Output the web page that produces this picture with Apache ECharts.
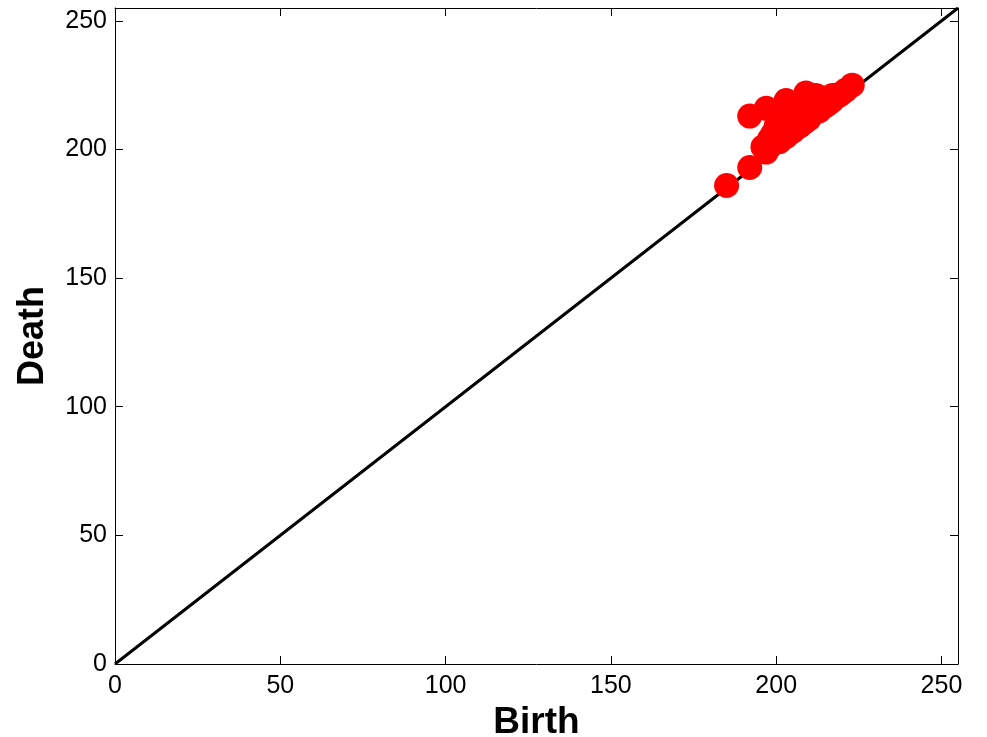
<!DOCTYPE html>
<html><head><meta charset="utf-8">
<script src="https://cdn.jsdelivr.net/npm/echarts@6/dist/echarts.min.js"></script>
<style>html,body{margin:0;padding:0;background:#fff}#c{width:987px;height:737px}</style>
</head><body><div id="c"></div>
<script>
const axisTicks = [0, 50, 100, 150, 200, 250];
const diagonal = [[0, 0], [255, 255]];
const births = [185,192,192,197,203,209,216,223,220,218,213,197,198,199,199,200,201,202,203,204,205,205,206,207,207,208,209,210,210,211,212,213,214,215,216,217,219,221,206,204,202,208,211,212,200,201,203,205,207,209,196,214,197,198,199,200,201,202,203,204,205,201,212,214,217];
const deaths = [186,193,213,216,219,222,220,225,222,221,218,199,201,203,206,204,208,206,210,207,212,215,209,213,217,210,215,212,218,214,216,215,217,217,218,219,221,223,218,213,210,219,219,220,209,203,205,207,209,211,201,219,201,204,206,208,206,208,212,214,216,211,221,220,221];
const points = births.map((b, i) => [b, deaths[i]]);

const font = 'Liberation Sans, Arial, sans-serif';
const chart = echarts.init(document.getElementById('c'));
const fmt = v => (axisTicks.indexOf(v) >= 0 ? String(v) : '');
const baseAxis = {
  type: 'value', min: 0, max: 255, interval: 50,
  axisLine: {show: true, onZero: false, lineStyle: {color: '#000', width: 1}},
  axisTick: {show: true, inside: true, length: 8, lineStyle: {color: '#000', width: 1}},
  splitLine: {show: false}
};
chart.setOption({
  animation: false,
  grid: {left: 115, right: 29, top: 8, bottom: 73, containLabel: false, outerBoundsMode: 'none'},
  xAxis: [
    Object.assign({}, baseAxis, {position: 'bottom',
      name: 'Birth', nameLocation: 'middle', nameGap: 35,
      nameTextStyle: {fontFamily: font, fontSize: 37, fontWeight: 'bold', color: '#000'},
      axisLabel: {show: true, formatter: fmt, fontFamily: font, fontSize: 25, color: '#000', margin: 10, showMaxLabel: false}}),
    Object.assign({}, baseAxis, {position: 'top', axisLabel: {show: false}})
  ],
  yAxis: [
    Object.assign({}, baseAxis, {position: 'left',
      name: 'Death', nameLocation: 'middle', nameGap: 64,
      nameTextStyle: {fontFamily: font, fontSize: 36, fontWeight: 'bold', color: '#000'},
      axisLabel: {show: true, formatter: fmt, fontFamily: font, fontSize: 25, color: '#000', margin: 8, showMaxLabel: false}}),
    Object.assign({}, baseAxis, {position: 'right', axisLabel: {show: false}})
  ],
  series: [
    {type: 'line', data: diagonal, showSymbol: false, symbol: 'none', lineStyle: {color: '#000', width: 3}, z: 1, xAxisIndex: 0, yAxisIndex: 0},
    {type: 'scatter', data: points, symbolSize: 25, itemStyle: {color: '#ff0000', opacity: 1}, z: 2, xAxisIndex: 0, yAxisIndex: 0}
  ]
});
</script></body></html>
